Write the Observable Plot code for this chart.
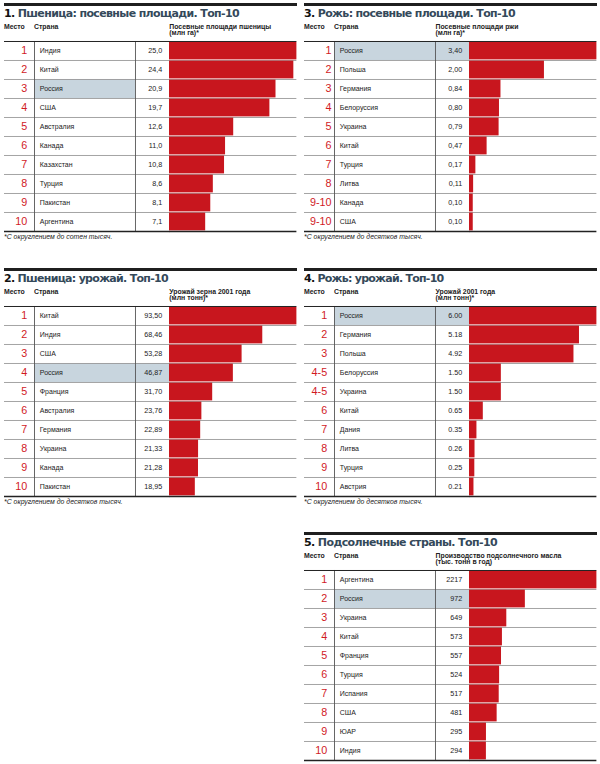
<!DOCTYPE html>
<html><head><meta charset="utf-8">
<script src="https://cdn.jsdelivr.net/npm/d3@7"></script>
<script src="https://cdn.jsdelivr.net/npm/@observablehq/plot@0.6"></script>
<style>
body{margin:0;background:#fff;}
#root{position:relative;width:600px;height:764px;overflow:hidden;font-family:"Liberation Sans",Arial,sans-serif;color:#222;background:#fff;}
.t{position:absolute;white-space:nowrap;line-height:1;}
.rule{position:absolute;background:#1f1f1f;}
.title{font-family:"DejaVu Sans",sans-serif;font-weight:bold;font-size:11px;color:#34495a;}
.title span{color:#111;}
.hdr{font-size:6.9px;font-weight:bold;color:#222;}
.foot{font-size:6.9px;font-style:italic;color:#222;}
.plotbox{position:absolute;}
.plotbox svg{display:block;max-width:none;}
</style></head><body><div id="root"></div>
<script>
// ---------- data ----------
const wheatAreaRanks = ["1","2","3","4","5","6","7","8","9","10"];
const wheatAreaCountries = ["Индия","Китай","Россия","США","Австралия","Канада","Казахстан","Турция","Пакистан","Аргентина"];
const wheatAreaValues = [25.0,24.4,20.9,19.7,12.6,11.0,10.8,8.6,8.1,7.1];

const wheatYieldRanks = ["1","2","3","4","5","6","7","8","9","10"];
const wheatYieldCountries = ["Китай","Индия","США","Россия","Франция","Австралия","Германия","Украина","Канада","Пакистан"];
const wheatYieldValues = [93.50,68.46,53.28,46.87,31.70,23.76,22.89,21.33,21.28,18.95];

const ryeAreaRanks = ["1","2","3","4","5","6","7","8","9-10","9-10"];
const ryeAreaCountries = ["Россия","Польша","Германия","Белоруссия","Украина","Китай","Турция","Литва","Канада","США"];
const ryeAreaValues = [3.40,2.00,0.84,0.80,0.79,0.47,0.17,0.11,0.10,0.10];

const ryeYieldRanks = ["1","2","3","4-5","4-5","6","7","8","9","10"];
const ryeYieldCountries = ["Россия","Германия","Польша","Белоруссия","Украина","Китай","Дания","Литва","Турция","Австрия"];
const ryeYieldValues = [6.00,5.18,4.92,1.50,1.50,0.65,0.35,0.26,0.25,0.21];

const sunRanks = ["1","2","3","4","5","6","7","8","9","10"];
const sunCountries = ["Аргентина","Россия","Украина","Китай","Франция","Турция","Испания","США","ЮАР","Индия"];
const sunValues = [2217,972,649,573,557,524,517,481,295,294];

const highlightCountry = "Россия";

// ---------- layout / style ----------
const RED = "#c8161e", RANK_RED = "#d11a1f", HL = "#c8d5de", GRID = "#9a9a9a";
const FONT = "'Liberation Sans', Arial, sans-serif";
const ROW = 19, NROWS = 10, MT = 3, MB = 3;
const TABLE_W = 165.3, BAR_W = 127.4;
const COL_COUNTRY = 30, COL_VALUE = 131, COUNTRY_X = 35.3, VALUE_X = 157.7;

const panels = [
  {left:4, hl:41, num:"1.", title:"Пшеница: посевные площади. Топ-10", titleW:235,
   head:["Посевные площади пшеницы","(млн га)*"], headX:165.3, rankX:22.7, hlEnd:COL_VALUE,
   ranks:wheatAreaRanks, countries:wheatAreaCountries, values:wheatAreaValues,
   fmt: v => d3.format(".1f")(v).replace(".", ","), foot:"*С округлением до сотен тысяч."},
  {left:4, hl:306, num:"2.", title:"Пшеница: урожай. Топ-10", titleW:164,
   head:["Урожай зерна 2001 года","(млн тонн)*"], headX:165.3, rankX:22.7, hlEnd:TABLE_W,
   ranks:wheatYieldRanks, countries:wheatYieldCountries, values:wheatYieldValues,
   fmt: v => d3.format(".2f")(v).replace(".", ","), foot:"*С округлением до десятков тысяч."},
  {left:304, hl:41, num:"3.", title:"Рожь: посевные площади. Топ-10", titleW:211,
   head:["Посевные площади ржи","(млн га)*"], headX:131.5, rankX:27, hlEnd:TABLE_W,
   ranks:ryeAreaRanks, countries:ryeAreaCountries, values:ryeAreaValues,
   fmt: v => d3.format(".2f")(v).replace(".", ","), foot:"*С округлением до десятков тысяч."},
  {left:304, hl:306, num:"4.", title:"Рожь: урожай. Топ-10", titleW:139.5,
   head:["Урожай 2001 года","(млн тонн)*"], headX:131.5, rankX:22.7, hlEnd:TABLE_W,
   ranks:ryeYieldRanks, countries:ryeYieldCountries, values:ryeYieldValues,
   fmt: v => d3.format(".2f")(v), foot:"*С округлением до десятков тысяч."},
  {left:304, hl:570, num:"5.", title:"Подсолнечные страны. Топ-10", titleW:193,
   head:["Производство подсолнечного масла","(тыс. тонн в год)"], headX:131.5, rankX:22.7, hlEnd:TABLE_W,
   ranks:sunRanks, countries:sunCountries, values:sunValues,
   fmt: v => d3.format("d")(v), foot:null}
];

const root = document.getElementById("root");
function addText(html, cls, x, baseline, size, asc) {
  const d = document.createElement("div");
  d.className = "t " + cls;
  d.innerHTML = html;
  d.style.left = x + "px";
  d.style.top = (baseline - (asc || 0.8465) * size) + "px";
  root.appendChild(d);
  return d;
}
function fitWidth(div, target) {
  const n = div.textContent.length;
  const w = div.getBoundingClientRect().width;
  div.style.letterSpacing = ((target - w) / n) + "px";
}
function addBox(node, x, y) {
  const d = document.createElement("div");
  d.className = "plotbox";
  d.style.left = x + "px";
  d.style.top = y + "px";
  d.appendChild(node);
  root.appendChild(d);
}

for (const p of panels) {
  const rows = p.countries.map((c, i) => ({i, rank: p.ranks[i], country: c, value: p.values[i], label: p.fmt(p.values[i]), hl: c === highlightCountry}));
  const H = MT + ROW * NROWS + MB;
  const yScale = {domain: [0, NROWS], range: [MT, MT + ROW * NROWS], axis: null};

  const r = document.createElement("div");
  r.className = "rule";
  Object.assign(r.style, {left: p.left + "px", top: (p.hl - 37.7) + "px", width: (TABLE_W + BAR_W) + "px", height: "2.7px"});
  root.appendChild(r);

  const tdiv = addText(`<span>${p.num}</span> ${p.title}`, "title", p.left, p.hl - 23.8, 11, 0.846);
  fitWidth(tdiv, p.titleW);
  addText("Место", "hdr", p.left, p.hl - 11.4, 6.9);
  addText("Страна", "hdr", p.left + COL_COUNTRY, p.hl - 11.4, 6.9);
  addText(p.head[0], "hdr", p.left + p.headX, p.hl - 11.6, 6.9);
  addText(p.head[1], "hdr", p.left + p.headX, p.hl - 5.3, 6.9);
  if (p.foot) addText(p.foot, "foot", p.left, p.hl + ROW * NROWS + 9.2, 6.9);

  const table = Plot.plot({
    width: TABLE_W, height: H, marginTop: 0, marginBottom: 0, marginLeft: 0, marginRight: 0,
    x: {domain: [0, TABLE_W], range: [0, TABLE_W], axis: null},
    y: yScale,
    style: {fontFamily: FONT, background: "transparent", overflow: "visible"},
    marks: [
      Plot.rect(rows.filter(d => d.hl), {x1: () => COL_COUNTRY, x2: () => p.hlEnd, y1: d => d.i, y2: d => d.i + 1, fill: HL}),
      Plot.ruleY(rows.slice(1), {y: d => d.i, stroke: GRID, strokeWidth: 0.9}),
      Plot.ruleX([COL_COUNTRY, COL_VALUE], {x: d => d, y1: () => 0, y2: () => NROWS, stroke: "#555", strokeWidth: 0.9}),
      Plot.ruleY([0], {y: d => d, stroke: "#222", strokeWidth: 1}),
      Plot.ruleY([NROWS], {y: d => d, stroke: "#222", strokeWidth: 1.5}),
      Plot.text(rows, {x: () => p.rankX, y: d => d.i + 0.5, text: "rank", textAnchor: "end", fill: RANK_RED, fontSize: 10.8}),
      Plot.text(rows, {x: () => COUNTRY_X, y: d => d.i + 0.5, text: "country", textAnchor: "start", fill: "#222", fontSize: 7}),
      Plot.text(rows, {x: () => VALUE_X, y: d => d.i + 0.5, text: "label", textAnchor: "end", fill: "#222", fontSize: 7.2})
    ]
  });
  addBox(table, p.left, p.hl - MT);

  const bars = Plot.plot({
    width: BAR_W, height: H, marginTop: 0, marginBottom: 0, marginLeft: 0, marginRight: 0,
    x: {domain: [0, d3.max(p.values)], range: [0, BAR_W], axis: null},
    y: yScale,
    style: {fontFamily: FONT, background: "transparent", overflow: "visible"},
    marks: [
      Plot.ruleY(rows.slice(1), {y: d => d.i, stroke: GRID, strokeWidth: 0.9}),
      Plot.rect(rows, {x1: () => 0, x2: "value", y1: d => d.i, y2: d => d.i + 1, insetTop: 0.6, insetBottom: 0.6, fill: RED}),
      Plot.ruleY([0], {y: d => d, stroke: "#222", strokeWidth: 1}),
      Plot.ruleY([NROWS], {y: d => d, stroke: "#222", strokeWidth: 1.5})
    ]
  });
  addBox(bars, p.left + TABLE_W, p.hl - MT);
}
</script></body></html>
